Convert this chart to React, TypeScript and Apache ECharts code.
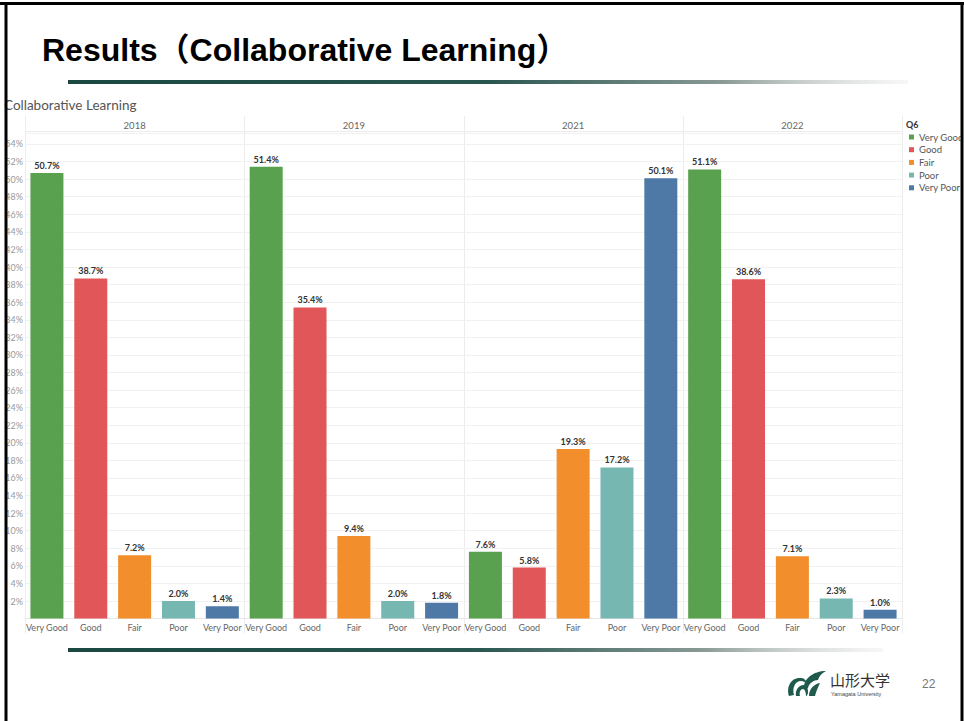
import React, { useEffect, useRef } from "react";
import * as echarts from "echarts";

const years = ["2018", "2019", "2021", "2022"];
const categories = ["Very Good", "Good", "Fair", "Poor", "Very Poor"];
const values2018 = [50.7, 38.7, 7.2, 2.0, 1.4];
const values2019 = [51.4, 35.4, 9.4, 2.0, 1.8];
const values2021 = [7.6, 5.8, 19.3, 17.2, 50.1];
const values2022 = [51.1, 38.6, 7.1, 2.3, 1.0];
const seriesValues = [values2018, values2019, values2021, values2022];
const colors = ["#59A14F", "#E15759", "#F28E2B", "#76B7B2", "#4E79A7"];
const legendTitle = "Q6";
const slideTitle = "Results（Collaborative Learning）";
const chartTitle = "Collaborative Learning";
const pageNumber = "22";

const LOGO_D =
  "M2,27 C-1,18 4,8 14,9 C17,9 19,11 20,14 C18,13 16,12 14,12 C8,12 5,19 7,26 Z " +
  "M9,27 C8,22 11,16 17,16 C20,16 21,19 21,23 C21,25 20,27 19,27 C19,24 18,20 16,20 C13,20 12,24 13,27 Z " +
  "M17,18 C17,10 26,2 39,2 C35,4 32,7 31,11 C27,11 22,14 21,19 Z " +
  "M22,27 C22,20 27,15 33,14 C31,18 29,23 28,27 Z";
echarts.graphic.registerShape("logo", echarts.graphic.extendPath(LOGO_D, {}) as any);

export default function App() {
  const ref = useRef<HTMLDivElement>(null);
  useEffect(() => {
    if (!ref.current) return;
    const chart = echarts.init(ref.current, null, { renderer: "svg" });
    const panelLeft = 25;
    const panelRight = 902;
    const panelW = (panelRight - panelLeft) / years.length;
    const gridTop = 133;
    const gridBottom = 721 - 618.6;
    const font = "Lato";

    const grids = years.map((_, i) => ({
      left: panelLeft + i * panelW,
      width: panelW,
      top: gridTop,
      bottom: gridBottom,
      containLabel: false,
    }));
    const xAxes = years.map((_, i) => ({
      type: "category",
      gridIndex: i,
      data: categories,
      axisTick: { show: false },
      axisLine: { show: true, lineStyle: { color: "#e6e6e6" } },
      axisLabel: {
        interval: 0,
        hideOverlap: false,
        color: "#666",
        fontSize: 9,
        fontFamily: font,
        margin: 4,
      },
    }));
    const yAxes = years.map((_, i) => ({
      type: "value",
      gridIndex: i,
      min: 0,
      max: 55.25,
      interval: 2,
      axisLine: { show: false },
      axisTick: { show: false },
      splitLine: { show: true, lineStyle: { color: "#f1f1f1", width: 1 } },
      axisLabel: {
        show: i === 0,
        color: "#999",
        fontSize: 9,
        fontFamily: font,
        margin: 2,
        showMaxLabel: false,
        showMinLabel: false,
        formatter: (v: number) => `${v}%`,
      },
    }));
    const series = years.map((_, i) => ({
      type: "bar",
      xAxisIndex: i,
      yAxisIndex: i,
      barWidth: 33,
      data: seriesValues[i].map((v, k) => ({ value: v, itemStyle: { color: colors[k] } })),
      label: {
        show: true,
        position: "top",
        distance: 3,
        color: "#333",
        fontSize: 9,
        fontWeight: "bold",
        fontFamily: font,
        formatter: (p: any) => `${p.value.toFixed(1)}%`,
      },
    }));

    const lineGrad = () =>
      new echarts.graphic.LinearGradient(0, 0, 1, 0, [
        { offset: 0, color: "#1c4842" },
        { offset: 0.5, color: "#2a5650" },
        { offset: 0.78, color: "#8a9a96" },
        { offset: 1, color: "rgba(235,235,235,0.4)" },
      ]);

    const graphics: any[] = [];
    graphics.push({
      type: "text",
      x: 42,
      y: 50,
      style: {
        text: slideTitle,
        font: "bold 32px 'Liberation Sans', 'Noto Sans CJK JP', sans-serif",
        fill: "#000",
        verticalAlign: "middle",
      },
    });
    graphics.push({ type: "rect", shape: { x: 68, y: 80, width: 840, height: 4 }, style: { fill: lineGrad() } });
    graphics.push({ type: "rect", shape: { x: 68, y: 648, width: 815, height: 4 }, style: { fill: lineGrad() } });
    graphics.push({
      type: "text",
      x: 4,
      y: 105,
      style: { text: chartTitle, font: `13.5px ${font}`, fill: "#555", verticalAlign: "middle" },
    });
    graphics.push({
      type: "line",
      shape: { x1: panelLeft, y1: 131.5, x2: panelRight, y2: 131.5 },
      style: { stroke: "#ececec", lineWidth: 1 },
    });
    for (let i = 0; i <= years.length; i++) {
      const x = Math.round(panelLeft + i * panelW) + 0.5;
      graphics.push({
        type: "line",
        shape: { x1: x, y1: 116, x2: x, y2: 633 },
        style: { stroke: "#ececec", lineWidth: 1 },
      });
    }
    years.forEach((y, i) => {
      graphics.push({
        type: "text",
        x: panelLeft + (i + 0.5) * panelW,
        y: 125,
        style: { text: y, font: `9.5px ${font}`, fill: "#666", align: "center", verticalAlign: "middle" },
      });
    });
    graphics.push({
      type: "text",
      x: 906,
      y: 124,
      style: { text: legendTitle, font: `bold 9px ${font}`, fill: "#333", verticalAlign: "middle" },
    });
    categories.forEach((c, k) => {
      const cy = 137 + k * 12.7;
      graphics.push({ type: "rect", shape: { x: 909, y: cy - 2.5, width: 5, height: 5 }, style: { fill: colors[k] } });
      graphics.push({
        type: "text",
        x: 919,
        y: cy,
        style: { text: c, font: `9.5px ${font}`, fill: "#555", verticalAlign: "middle" },
      });
    });
    graphics.push({
      type: "logo",
      x: 787,
      y: 669,
      scaleX: 1,
      scaleY: 1,
      style: { fill: "#1f5a4c" },
    });
    graphics.push({
      type: "text",
      x: 830,
      y: 679,
      style: { text: "山形大学", font: "15px 'Noto Sans CJK JP'", fill: "#333", verticalAlign: "middle" },
    });
    graphics.push({
      type: "text",
      x: 831,
      y: 694,
      style: { text: "Yamagata University", font: "5.5px 'Liberation Sans'", fill: "#444", verticalAlign: "middle" },
    });
    graphics.push({
      type: "text",
      x: 922,
      y: 684,
      style: { text: pageNumber, font: "12px 'Liberation Sans'", fill: "#777", verticalAlign: "middle" },
    });
    graphics.push({ type: "rect", z: 100, shape: { x: 0, y: 2, width: 964, height: 3 }, style: { fill: "#000" } });
    graphics.push({ type: "rect", z: 100, shape: { x: 4.5, y: 2, width: 3, height: 719 }, style: { fill: "#000" } });
    graphics.push({ type: "rect", z: 100, shape: { x: 960.5, y: 2, width: 3, height: 719 }, style: { fill: "#000" } });
    graphics.push({ type: "rect", z: 99, shape: { x: 0, y: 0, width: 4.5, height: 721 }, style: { fill: "#fff" } });

    chart.setOption({
      animation: false,
      backgroundColor: "#fff",
      grid: grids,
      xAxis: xAxes,
      yAxis: yAxes,
      series,
      graphic: graphics,
    } as any);
    return () => chart.dispose();
  }, []);
  return (
    <div
      ref={ref}
      style={{ position: "absolute", left: 0, top: 0, width: 964, height: 721 }}
    />
  );
}
